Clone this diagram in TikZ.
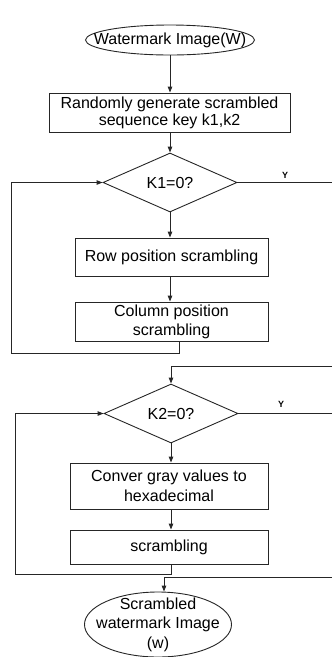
\documentclass[tikz,border=0pt]{standalone}
\usepackage{fontspec}
\setmainfont{Liberation Sans}
\usetikzlibrary{shapes.geometric,arrows.meta}
\begin{document}
\begin{tikzpicture}[x=1pt,y=-1pt,
  every node/.style={font=\fontsize{16}{19}\selectfont},
  ln/.style={draw=black!85,line width=0.9pt},
  arr/.style={ln,-{Triangle[length=6pt,width=4.5pt]}},
  procbox/.style={draw=black!85,line width=0.9pt,rectangle,inner sep=0pt,align=center},
  decision/.style={draw=black!85,line width=0.9pt,diamond,inner sep=0pt,minimum width=134pt,minimum height=59pt},
  terminal/.style={draw=black!85,line width=0.9pt,ellipse,inner sep=0pt},
  ylab/.style={font=\fontsize{9}{10}\selectfont\bfseries}]
\useasboundingbox (0,0) rectangle (332,657);
\node[terminal,minimum width=169pt,minimum height=30pt] (start) at (170,40) {};
\node at (start.center) {Watermark Image(W)};
\node[procbox,minimum width=241pt,minimum height=39pt,font=\fontsize{16}{17}\selectfont] (gen) at (169.5,112.5) {Randomly generate scrambled\\sequence key k1,k2};
\node[decision] (d1) at (170,182.5) {K1=0?};
\node[procbox,minimum width=193pt,minimum height=38pt] (row) at (171.5,257) {Row position scrambling};
\node[procbox,minimum width=193pt,minimum height=39pt] (col) at (171.5,321.5) {Column position\\scrambling};
\node[decision] (d2) at (171,413.5) {K2=0?};
\node[procbox,minimum width=198pt,minimum height=46pt,font=\fontsize{16}{20}\selectfont] (conv) at (169,486) {Conver gray values to\\hexadecimal};
\node[procbox,minimum width=198pt,minimum height=34pt] (scr) at (169,547) {scrambling};
\node[terminal,minimum width=147pt,minimum height=65pt] (end) at (158,624.5) {};
\node[align=center,font=\fontsize{16}{19.5}\selectfont] at (end.center) {Scrambled\\watermark Image\\(w)};
\coordinate (c1) at (11,353);
\coordinate (r1) at (332,182.5);
\coordinate (r2) at (332,366);
\coordinate (r3) at (332,413.5);
\coordinate (c3) at (15,574);
\coordinate (r4) at (332,577);
\draw[arr] (start) -- (start.south |- gen.north);
\draw[arr] (gen.south -| d1.north) -- (d1.north);
\draw[arr] (d1.south) -- (d1.south |- row.north);
\draw[arr] (d1.south |- row.south) -- (d1.south |- col.north);
\draw[arr] ([xshift=7.5pt]col.south) |- (c1) |- (d1.west);
\draw[ln] (d1.east) -- (r1);
\node[ylab] (y1) at (285,175) {Y};
\draw[arr] (r2) -| (d2.north);
\draw[ln] (d2.east) -- (r3);
\node[ylab] (y2) at (281,404) {Y};
\draw[arr] (d2.south) -- (d2.south |- conv.north);
\draw[arr] (d2.south |- conv.south) -- (d2.south |- scr.north);
\draw[arr] (d2.south |- scr.south) |- (c3) |- (d2.west);
\draw[arr] (r4) -| ([xshift=6pt]end.north);
\end{tikzpicture}
\end{document}
